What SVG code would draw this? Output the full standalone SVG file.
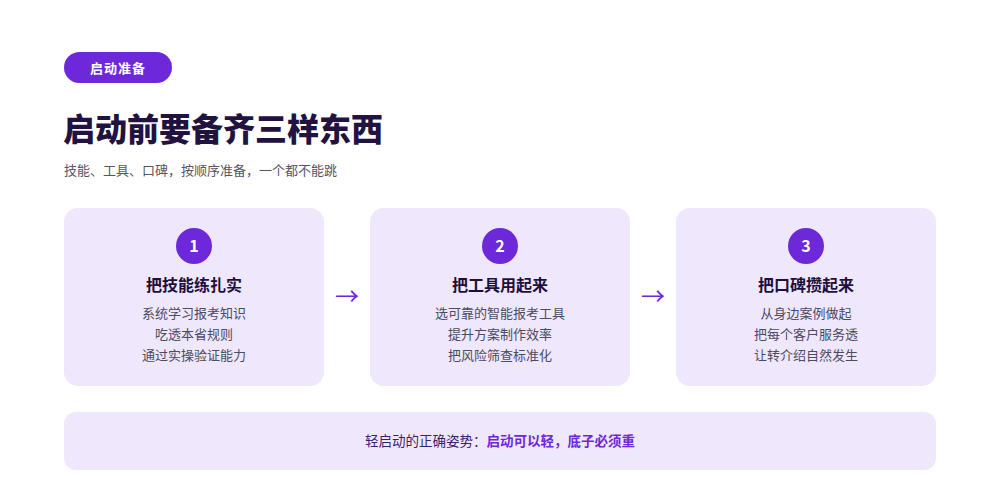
<svg xmlns="http://www.w3.org/2000/svg" width="1000" height="477" viewBox="0 0 1000 477">
<style>
text{font-family:"Noto Sans CJK SC","Noto Sans",sans-serif}
.card{fill:#efe7fb}
.num{fill:#6d28d9}
.nt{fill:#fff;font-size:16px;font-weight:700;text-anchor:middle}
.ct{fill:#1e0f3c;font-size:16px;font-weight:700;text-anchor:middle}
.cl{fill:#4b4b63;font-size:13px;text-anchor:middle}
.arr{fill:#6d28d9;font-size:24px;text-anchor:middle}
</style>
<rect width="1000" height="477" fill="#fff"/>
<g id="badge"><rect x="64" y="52" width="108" height="31" rx="15.5" fill="#6d28d9"/><text x="118" y="72.5" fill="#fff" font-size="13" font-weight="700" text-anchor="middle" letter-spacing="1">启动准备</text></g>
<g id="title"><text x="63" y="141" fill="#22123f" font-size="32" font-weight="900">启动前要备齐三样东西</text></g>
<g id="subtitle"><text x="64" y="175" fill="#555566" font-size="13">技能、工具、口碑，按顺序准备，一个都不能跳</text></g>
<g id="card1"><rect class="card" x="64" y="208" width="260" height="178" rx="14"/><circle class="num" cx="194" cy="246" r="18"/><text class="nt" x="194" y="252">1</text><text class="ct" x="194" y="291">把技能练扎实</text><text class="cl" x="194" y="318">系统学习报考知识</text><text class="cl" x="194" y="339">吃透本省规则</text><text class="cl" x="194" y="360">通过实操验证能力</text></g>
<g id="card2"><rect class="card" x="370" y="208" width="260" height="178" rx="14"/><circle class="num" cx="500" cy="246" r="18"/><text class="nt" x="500" y="252">2</text><text class="ct" x="500" y="291">把工具用起来</text><text class="cl" x="500" y="318">选可靠的智能报考工具</text><text class="cl" x="500" y="339">提升方案制作效率</text><text class="cl" x="500" y="360">把风险筛查标准化</text></g>
<g id="card3"><rect class="card" x="676" y="208" width="260" height="178" rx="14"/><circle class="num" cx="806" cy="246" r="18"/><text class="nt" x="806" y="252">3</text><text class="ct" x="806" y="291">把口碑攒起来</text><text class="cl" x="806" y="318">从身边案例做起</text><text class="cl" x="806" y="339">把每个客户服务透</text><text class="cl" x="806" y="360">让转介绍自然发生</text></g>
<g id="connectors"><text class="arr" x="347" y="305">→</text><text class="arr" x="653" y="305">→</text></g>
<g id="footer"><rect class="card" x="64" y="412" width="872" height="58" rx="12"/><text x="500" y="446" font-size="13.5" text-anchor="middle"><tspan fill="#3b1f6e">轻启动的正确姿势：</tspan><tspan fill="#6d28d9" font-weight="700">启动可以轻，底子必须重</tspan></text></g>
</svg>
